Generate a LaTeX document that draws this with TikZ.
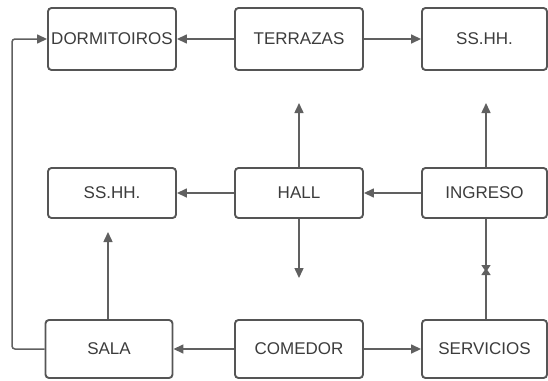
\documentclass[tikz,border=0pt]{standalone}
\usepackage{fontspec}
\setmainfont{Liberation Sans}
\usetikzlibrary{arrows.meta}
\definecolor{boxline}{HTML}{555555}
\definecolor{arrline}{HTML}{606060}
\definecolor{txt}{HTML}{3C3C3C}
\begin{document}
\begin{tikzpicture}[x=1pt,y=-1pt,
  roombox/.style={draw=boxline, line width=1.9pt, rounded corners=3.5pt, fill=white,
    minimum width=128pt, inner sep=0pt, text=txt, font=\fontsize{17}{19}\selectfont},
  toprow/.style={roombox, minimum height=62pt},
  midrow/.style={roombox, minimum height=50pt},
  botrow/.style={roombox, minimum height=58pt},
  conn/.style={draw=arrline, line width=1.5pt, -{Triangle[length=10pt,width=9pt]}},
  half/.style={draw=arrline, line width=1.5pt, -{Triangle[length=7pt,width=9pt]}}]
\useasboundingbox (0,0) rectangle (548,380);
% boxes
\node[toprow] (dorm) at (112,39) {DORMITOIROS};
\node[toprow] (terr) at (299,39) {TERRAZAS};
\node[toprow, minimum width=125pt] (sstop) at (484.5,39) {SS.HH.};
\node[midrow] (ssmid) at (112,193) {SS.HH.};
\node[midrow] (hall) at (299,193) {HALL};
\node[midrow, minimum width=125pt] (ingreso) at (484.5,193) {INGRESO};
\node[botrow, minimum width=127pt] (sala) at (109,349) {SALA};
\node[botrow] (comedor) at (299,349) {COMEDOR};
\node[botrow, minimum width=125pt] (servicios) at (484.5,349) {SERVICIOS};
% free ends
\coordinate (loopb) at (12,349);
\coordinate (hallup) at (299,103);
\coordinate (ingup) at (486,103);
\coordinate (halldown) at (299,278);
\coordinate (salaup) at (108,232);
\coordinate (middown) at (486,272);
\coordinate (midup) at (486,268);
% connectors
\draw[conn] (terr.west) -- (dorm.east);
\draw[conn] (terr.east) -- (sstop.west);
\draw[conn, rounded corners=3pt] (sala.west) -- (loopb) |- (dorm.west);
\draw[conn] (hall.north) -- (hallup);
\draw[conn] (ingreso.north -| ingup) -- (ingup);
\draw[conn] (ingreso.west) -- (hall.east);
\draw[conn] (hall.west) -- (ssmid.east);
\draw[conn] (hall.south) -- (halldown);
\draw[conn] (sala.north -| salaup) -- (salaup);
\draw[half] (ingreso.south -| middown) -- (middown);
\draw[half] (servicios.north -| midup) -- (midup);
\draw[conn] (comedor.west) -- (sala.east);
\draw[conn] (comedor.east) -- (servicios.west);
\end{tikzpicture}
\end{document}
